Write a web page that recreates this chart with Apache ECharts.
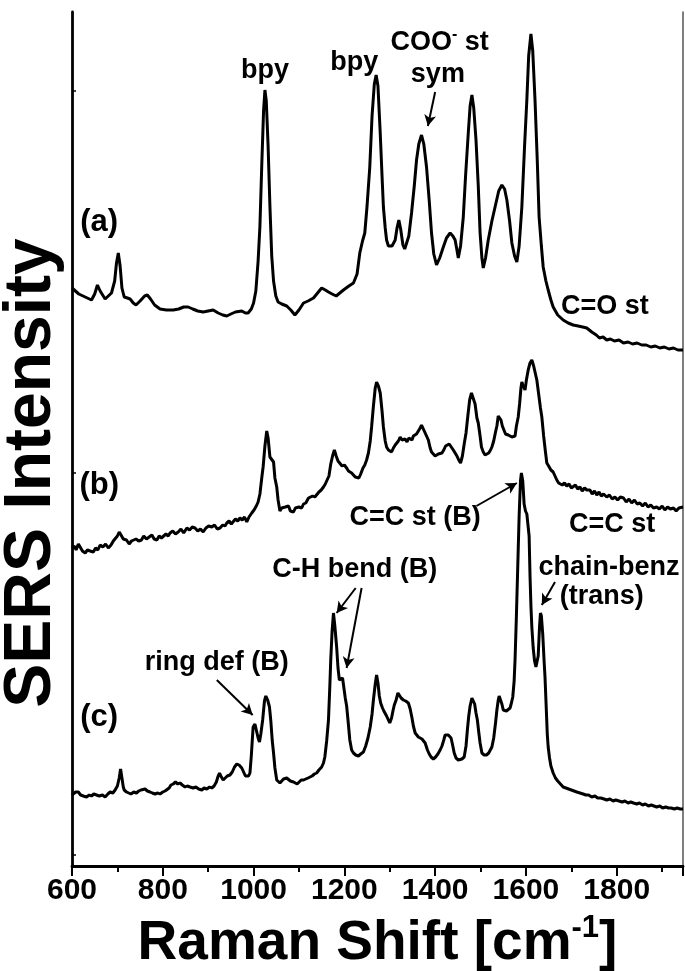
<!DOCTYPE html>
<html>
<head>
<meta charset="utf-8">
<script src="https://cdn.jsdelivr.net/npm/echarts@6/dist/echarts.min.js"></script>
<style>
  html, body { margin: 0; padding: 0; background: #ffffff; }
  #chart { width: 685px; height: 971px; }
</style>
</head>
<body>
<div id="chart"></div>
<script>
// SERS spectra, stacked with vertical offsets (arbitrary intensity units).
// Each point: [Raman shift in cm-1, intensity].
const spectrumA = [
  [600,578],[605,576],[615,572],[629,569],[643,566],[650,572],[656,581],[662,575],[673,567],[680,570],
  [687,573],[694,585],[698,603],[702,613],[706,600],[710,578],[715,569],[722,568],[728,567],[735,563],
  [741,561],[750,565],[760,570],[766,571],[773,567],[782,561],[794,557],[808,556],[823,556],[835,557],
  [846,559],[856,559],[866,557],[877,555],[889,554],[900,555],[911,556],[922,553],[932,551],[941,550],
  [950,552],[960,554],[974,555],[982,553],[988,553],[995,557],[1000,563],[1005,575],[1010,605],[1014,640],
  [1018,700],[1022,755],[1025,776],[1028,765],[1032,720],[1036,660],[1040,610],[1044,585],[1049,570],[1054,564],
  [1062,562],[1073,560],[1082,556],[1091,551],[1100,556],[1110,563],[1120,565],[1132,568],[1141,573],[1150,578],
  [1158,576],[1165,574],[1173,572],[1182,570],[1190,573],[1198,576],[1210,580],[1220,583],[1228,592],[1234,613],
  [1240,625],[1245,633],[1250,660],[1256,699],[1261,750],[1266,782],[1270,791],[1274,780],[1279,733],[1283,690],
  [1286,659],[1290,638],[1293,626],[1297,620],[1300,618],[1305,620],[1312,626],[1316,638],[1320,646],[1324,637],
  [1329,621],[1333,617],[1337,618],[1342,630],[1348,653],[1354,680],[1359,706],[1364,722],[1370,731],[1375,722],
  [1381,699],[1387,665],[1392,633],[1397,612],[1403,601],[1410,608],[1418,619],[1425,628],[1433,633],[1439,630],
  [1444,626],[1448,616],[1451,608],[1456,620],[1462,649],[1467,690],[1473,733],[1477,760],[1481,771],[1485,758],
  [1490,726],[1495,680],[1499,633],[1503,608],[1506,598],[1511,608],[1517,626],[1525,645],[1532,659],[1540,675],
  [1547,681],[1553,677],[1558,666],[1564,645],[1569,623],[1575,610],[1580,604],[1585,620],[1591,659],[1597,720],
  [1602,766],[1606,810],[1611,832],[1615,815],[1620,766],[1625,705],[1629,649],[1634,620],[1638,599],[1644,585],
  [1649,576],[1655,566],[1660,559],[1670,551],[1682,546],[1693,543],[1704,541],[1715,540],[1725,539],[1734,538],
  [1745,534],[1755,531],[1762,528],[1770,529],[1778,526],[1786,527],[1795,525],[1805,526],[1815,523],[1825,524],
  [1835,522],[1845,523],[1855,521],[1865,521],[1875,519],[1885,520],[1895,518],[1905,519],[1915,517],[1925,518],
  [1935,516],[1946,516]
];

const spectrumB = [
  [600,318],[605,320],[609,316],[614,322],[618,321],[623,315],[629,313],[634,316],[640,315],[647,314],
  [652,318],[657,316],[662,321],[668,319],[674,322],[680,318],[686,321],[691,325],[695,324],[700,330],
  [704,334],[708,331],[713,327],[720,326],[726,322],[731,325],[735,323],[741,327],[747,325],[753,326],
  [758,330],[764,327],[770,329],[776,331],[781,327],[787,326],[792,330],[797,328],[801,329],[807,332],
  [812,330],[816,333],[822,335],[828,332],[834,334],[840,337],[846,333],[853,338],[859,336],[865,339],
  [871,338],[877,335],[883,337],[889,334],[895,338],[901,340],[908,339],[914,341],[920,337],[926,338],
  [932,341],[937,340],[941,343],[946,345],[951,342],[955,344],[960,347],[965,345],[970,348],[975,346],
  [980,349],[985,344],[990,349],[996,353],[1001,356],[1006,360],[1010,364],[1014,372],[1018,388],[1021,399],
  [1025,420],[1029,435],[1032,428],[1036,409],[1040,410],[1044,404],[1047,388],[1051,379],[1054,366],[1058,355],
  [1062,358],[1066,356],[1070,359],[1073,357],[1077,360],[1081,355],[1085,357],[1088,354],[1092,358],[1096,356],
  [1100,359],[1106,358],[1110,362],[1115,363],[1121,368],[1125,366],[1130,370],[1135,369],[1139,368],[1144,374],
  [1149,376],[1154,379],[1158,382],[1162,386],[1166,390],[1170,402],[1174,410],[1178,416],[1182,410],[1186,405],
  [1190,403],[1195,400],[1200,401],[1205,398],[1209,395],[1213,396],[1216,393],[1220,391],[1224,389],[1228,387],
  [1232,388],[1236,392],[1241,398],[1245,401],[1249,406],[1253,413],[1257,425],[1260,439],[1264,460],[1268,478],
  [1271,484],[1275,480],[1279,473],[1283,455],[1286,439],[1290,425],[1293,419],[1297,416],[1301,418],[1304,414],
  [1308,418],[1312,421],[1315,419],[1319,425],[1323,429],[1327,426],[1331,424],[1334,427],[1338,424],[1342,428],
  [1345,428],[1349,426],[1352,430],[1356,429],[1359,432],[1363,433],[1367,438],[1370,441],[1374,439],[1377,434],
  [1381,433],[1385,426],[1389,418],[1392,414],[1396,412],[1400,410],[1403,408],[1407,412],[1411,410],[1415,413],
  [1419,416],[1423,420],[1427,421],[1431,422],[1435,420],[1440,416],[1444,413],[1448,410],[1452,406],[1456,403],
  [1460,410],[1464,422],[1468,433],[1472,450],[1476,466],[1480,473],[1484,474],[1488,462],[1492,448],[1495,443],
  [1499,430],[1502,419],[1506,414],[1510,411],[1514,409],[1518,413],[1522,416],[1525,419],[1529,425],[1533,434],
  [1536,440],[1539,450],[1542,452],[1545,446],[1548,440],[1551,438],[1555,432],[1558,433],[1561,431],[1565,430],
  [1569,429],[1572,428],[1576,430],[1579,440],[1583,449],[1586,462],[1589,478],[1591,484],[1593,481],[1596,479],
  [1598,476],[1601,486],[1605,496],[1609,503],[1613,506],[1617,500],[1621,492],[1624,486],[1628,472],[1632,458],
  [1635,449],[1639,430],[1643,414],[1646,403],[1650,400],[1655,396],[1660,394],[1664,390],[1668,386],[1672,383],
  [1676,384],[1680,381],[1685,383],[1690,380],[1695,382],[1700,378],[1704,379],[1709,381],[1714,377],[1719,379],
  [1724,375],[1729,378],[1734,376],[1741,376],[1746,372],[1751,375],[1756,371],[1761,374],[1766,370],[1771,372],
  [1778,369],[1784,371],[1790,367],[1796,369],[1802,366],[1808,369],[1815,368],[1821,364],[1827,367],[1833,363],
  [1839,366],[1845,362],[1851,363],[1857,360],[1863,363],[1869,359],[1875,361],[1881,358],[1888,359],[1894,357],
  [1900,360],[1906,356],[1912,359],[1918,357],[1925,358],[1931,355],[1937,358],[1946,359]
];

const spectrumC = [
  [600,71],[604,73],[608,74],[614,74],[619,71],[625,70],[632,69],[638,71],[643,70],[648,72],
  [654,71],[660,70],[667,71],[673,69],[679,72],[684,74],[690,73],[695,76],[700,80],[704,88],
  [707,97],[710,88],[713,79],[715,76],[720,74],[725,73],[730,72],[736,74],[742,73],[747,75],
  [752,76],[756,78],[761,77],[766,75],[772,74],[777,73],[783,72],[789,73],[794,72],[800,74],
  [805,75],[809,76],[814,78],[818,81],[823,82],[828,84],[833,82],[838,83],[843,81],[849,79],
  [854,80],[860,79],[867,78],[873,79],[879,77],[886,76],[891,78],[897,77],[903,79],[908,78],
  [913,80],[918,84],[922,90],[925,93],[929,89],[933,86],[937,88],[942,90],[948,91],[953,94],
  [958,99],[963,102],[968,101],[974,98],[978,94],[982,90],[985,88],[989,90],[992,93],[995,110],
  [999,139],[1003,142],[1006,140],[1010,128],[1013,124],[1016,132],[1020,146],[1024,165],[1027,170],[1031,166],
  [1035,159],[1038,145],[1041,126],[1044,113],[1047,98],[1051,86],[1055,85],[1058,83],[1062,84],[1066,87],
  [1070,89],[1073,88],[1077,86],[1081,85],[1085,84],[1088,84],[1092,83],[1096,82],[1100,84],[1105,86],
  [1110,86],[1115,87],[1120,88],[1124,88],[1129,90],[1134,92],[1139,93],[1144,96],[1150,99],[1154,103],
  [1157,109],[1161,125],[1165,146],[1168,180],[1170,206],[1173,235],[1176,253],[1179,240],[1183,219],[1186,198],
  [1189,186],[1192,187],[1196,188],[1199,178],[1202,168],[1205,160],[1208,146],[1212,126],[1216,116],[1220,113],
  [1225,111],[1231,110],[1236,112],[1242,114],[1247,120],[1252,128],[1257,139],[1261,152],[1264,166],[1268,182],
  [1271,191],[1274,183],[1277,170],[1280,163],[1284,158],[1287,155],[1290,153],[1293,150],[1297,146],[1300,143],
  [1304,148],[1307,155],[1310,161],[1314,166],[1318,173],[1321,172],[1325,168],[1330,166],[1335,165],[1341,163],
  [1345,157],[1349,148],[1352,140],[1356,133],[1360,131],[1363,129],[1367,128],[1371,127],[1374,126],[1378,123],
  [1383,116],[1387,112],[1391,109],[1396,107],[1401,109],[1406,112],[1411,116],[1415,120],[1419,126],[1422,131],
  [1425,133],[1429,131],[1432,130],[1435,128],[1438,122],[1442,113],[1446,108],[1451,106],[1455,105],[1459,107],
  [1464,109],[1468,120],[1471,136],[1474,150],[1477,160],[1481,168],[1484,169],[1487,162],[1490,153],[1493,146],
  [1496,134],[1499,123],[1503,113],[1508,111],[1513,111],[1518,113],[1521,115],[1525,119],[1529,128],[1533,143],
  [1536,156],[1539,166],[1541,170],[1544,168],[1547,162],[1550,156],[1553,156],[1557,155],[1561,157],[1565,158],
  [1568,163],[1571,169],[1574,185],[1576,206],[1579,250],[1582,300],[1585,350],[1588,385],[1590,393],[1593,385],
  [1596,362],[1599,355],[1602,352],[1605,353],[1607,330],[1609,290],[1611,260],[1613,239],[1616,218],[1619,205],
  [1622,199],[1624,199],[1627,210],[1630,240],[1632,253],[1634,250],[1637,232],[1640,205],[1642,189],[1645,155],
  [1647,132],[1649,119],[1652,108],[1655,100],[1660,93],[1665,88],[1670,85],[1676,82],[1682,79],[1688,78],
  [1694,77],[1700,76],[1706,75],[1712,74],[1719,73],[1726,72],[1732,71],[1738,71],[1745,69],[1752,70],
  [1758,68],[1765,68],[1772,67],[1778,66],[1785,67],[1792,65],[1798,66],[1805,65],[1812,64],[1818,65],
  [1825,63],[1831,64],[1837,63],[1844,62],[1850,63],[1857,61],[1863,62],[1870,60],[1876,61],[1882,60],
  [1888,59],[1895,60],[1901,58],[1908,59],[1914,58],[1920,58],[1927,57],[1933,58],[1940,57],[1946,57]
];

// Axis setup
const xRange = [600, 1946];
const yRange = [0, 854];
const yTickValues = [11, 393, 775];

// Trace labels and peak assignments: [text, Raman shift, intensity]
const traceLabels = [
  ['(a)', 660, 644],
  ['(b)', 660, 381],
  ['(c)', 660, 149]
];
const peakNotes = [
  ['bpy', 1025, 795],
  ['bpy', 1222, 803],
  ['{t|COO}{s|-}{t| st}', 1410, 823],
  ['sym', 1406, 791],
  ['C=O st', 1774, 559],
  ['C=C st (B)', 1356, 348],
  ['C=C st', 1790, 341],
  ['chain-benz', 1783, 298],
  ['(trans)', 1767, 269],
  ['C-H bend (B)', 1223, 296],
  ['ring def (B)', 919, 203]
];

// Arrows from a label to its band: [from shift, from intensity, to shift, to intensity]
const peakArrows = [
  [1400, 774, 1384, 740],
  [1491, 360, 1580, 383],
  [1664, 284, 1635, 261],
  [1225, 278, 1183, 253],
  [1238, 278, 1205, 198],
  [919, 186, 998, 151]
];

const FONT = '"Liberation Sans", Arial, sans-serif';
const NARROW = '"Liberation Sans Narrow", "Arial Narrow", "Liberation Sans", sans-serif';
const chart = echarts.init(document.getElementById('chart'), null, { renderer: 'canvas' });

const traceStyle = { color: '#000', width: 3 };

function textSeries(name, items, size) {
  return {
    name: name, type: 'scatter', symbolSize: 1, silent: true, z: 5,
    itemStyle: { color: 'rgba(0,0,0,0)', opacity: 1 },
    data: items.map(n => ({
      value: [n[1], n[2]],
      label: {
        show: true, position: 'inside', formatter: n[0], opacity: 1,
        color: '#000', fontFamily: FONT, fontWeight: 'bold', fontSize: size,
        textBorderWidth: 0,
        rich: {
          t: { fontFamily: FONT, fontWeight: 'bold', fontSize: size, color: '#000' },
          s: { fontFamily: FONT, fontWeight: 'bold', fontSize: 16, color: '#000', padding: [0, 0, 16, 0] }
        }
      }
    }))
  };
}

const option = {
  animation: false,
  backgroundColor: '#ffffff',
  grid: { left: 72, right: 2, top: 12, bottom: 105, containLabel: false, outerBoundsMode: 'none' },
  graphic: [
    {
      type: 'text', x: 32, y: 473, rotation: Math.PI / 2, silent: true,
      style: {
        text: 'SERS Intensity', fill: '#000', align: 'center', verticalAlign: 'middle',
        font: 'bold 66px "Liberation Sans", Arial, sans-serif'
      }
    }
  ],
  xAxis: [
    {
      type: 'value', min: xRange[0], max: xRange[1], interval: 200,
      axisLine: { show: true, lineStyle: { color: '#000', width: 2.8 } },
      axisTick: { show: true, inside: false, length: 10, lineStyle: { color: '#000', width: 2 } },
      minorTick: { show: true, splitNumber: 2, length: 6, lineStyle: { color: '#000', width: 2 } },
      axisLabel: {
        color: '#000', fontFamily: NARROW, fontWeight: 'bold', fontSize: 30, margin: 10,
        formatter: v => (v > 1900 ? '' : String(v))
      },
      splitLine: { show: false },
      name: '{t|Raman Shift [cm}{s|-1}{t|]}',
      nameLocation: 'middle', nameGap: 47,
      nameTextStyle: {
        rich: {
          t: { fontFamily: FONT, fontWeight: 'bold', fontSize: 55, color: '#000' },
          s: { fontFamily: FONT, fontWeight: 'bold', fontSize: 31, color: '#000', padding: [0, 0, 31, 0] }
        }
      }
    },
    {
      type: 'value', position: 'top', min: xRange[0], max: xRange[1], interval: 100,
      axisLine: { show: true, lineStyle: { color: '#000', width: 2 } },
      axisTick: { show: true, inside: true, length: 3, lineStyle: { color: '#000', width: 1.5 } },
      axisLabel: { show: false }, splitLine: { show: false }
    }
  ],
  yAxis: [
    {
      type: 'value', min: yRange[0], max: yRange[1],
      axisLine: { show: true, lineStyle: { color: '#000', width: 2.8 } },
      axisTick: { show: true, inside: true, length: 4, customValues: yTickValues, lineStyle: { color: '#000', width: 1.5 } },
      axisLabel: { show: false },
      splitLine: { show: false }
    },
    {
      type: 'value', position: 'right', min: yRange[0], max: yRange[1],
      axisLine: { show: true, lineStyle: { color: '#555', width: 1.5 } },
      axisTick: { show: false }, axisLabel: { show: false }, splitLine: { show: false }
    }
  ],
  series: [
    { name: 'a', type: 'line', data: spectrumA, showSymbol: false, lineStyle: traceStyle, z: 3 },
    { name: 'b', type: 'line', data: spectrumB, showSymbol: false, lineStyle: traceStyle, z: 3 },
    { name: 'c', type: 'line', data: spectrumC, showSymbol: false, lineStyle: traceStyle, z: 3 },
    textSeries('trace labels', traceLabels, 31),
    textSeries('peak notes', peakNotes, 27),
    {
      name: 'arrows', type: 'line', data: [], silent: true, z: 4,
      markLine: {
        silent: true, symbol: ['none', 'arrow'], symbolSize: [9, 11],
        label: { show: false },
        lineStyle: { color: '#000', width: 2, type: 'solid' },
        data: peakArrows.map(a => [{ coord: [a[0], a[1]] }, { coord: [a[2], a[3]] }])
      }
    }
  ]
};

chart.setOption(option);
</script>
</body>
</html>
